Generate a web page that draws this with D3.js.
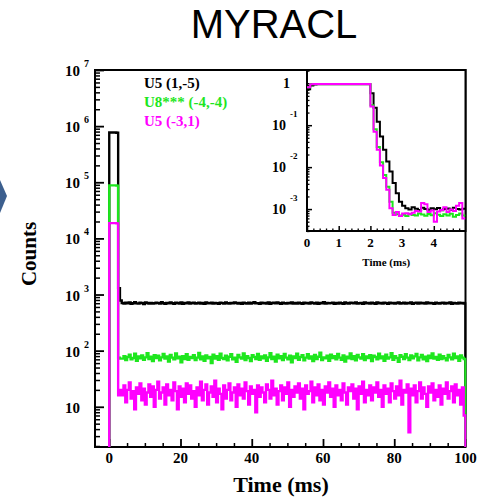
<!DOCTYPE html>
<html>
<head>
<meta charset="utf-8">
<script src="https://cdn.jsdelivr.net/npm/d3@7"></script>
<style>
  body { margin: 0; background: #fff; }
  svg { display: block; }
</style>
</head>
<body>
<div id="chart"></div>
<script>
// ---- donnees ----
const seriesNames = ["U5 (1,-5)", "U8*** (-4,-4)", "U5 (-3,1)"];
const seriesColors = ["#000000", "#1ee61e", "#ff00ff"];

// graphe principal : bins de 0.5 ms, 0 -> 100 ms
const binWidth = 0.5;
const peakBlack = [770000, 770000, 770000, 770000, 760000, 1300, 780];
const peakGreen = [88000, 88000, 88000, 88000, 87000, 75, 72];
const peakMagenta = [18700, 18700, 18700, 18700, 18500, 16, 20];

const noiseBlack = [
  705,690,712,698,720,684,701,730,695,688,716,702,679,724,708,693,711,687,699,715,
  703,689,726,697,682,710,694,721,700,686,713,705,691,719,683,707,698,725,690,704,
  712,688,699,716,693,706,681,722,701,694,717,689,708,697,684,714,703,692,720,699,
  687,711,696,723,705,690,709,684,718,700,693,715,688,706,727,695,702,681,713,698,
  708,691,719,686,704,712,694,725,699,683,716,701,690,711,697,724,688,706,693,715,
  700,684,718,696,709,687,721,703,692,714,680,707,699,726,689,711,695,702,717,686,
  705,693,712,698,684,720,701,690,716,707,694,723,688,700,710,685,719,697,704,691,
  713,699,686,722,695,708,690,715,702,683,718,697,711,689,704,725,692,700,714,687,
  709,696,720,684,703,712,691,717,698,705,688,721,694,710,699,682,716,701,693,707,
  715,689,704,697,723,686,711,700,692,718,695,706,690
];
const noiseGreen = [
  72,80,68,77,85,70,74,88,66,79,73,82,69,76,90,71,78,65,83,74,
  81,67,76,87,72,79,64,84,75,70,89,73,78,62,80,71,86,69,77,74,
  83,68,75,91,70,79,66,82,73,77,60,85,72,80,69,88,74,71,81,67,
  78,86,70,75,63,84,76,72,89,68,80,74,65,83,77,71,87,69,79,73,
  82,66,76,90,71,78,64,85,73,80,68,87,75,70,81,62,79,74,88,69,
  77,83,67,75,86,72,79,65,84,71,78,92,68,76,73,81,66,85,74,80,
  70,87,75,69,82,64,78,73,89,71,80,67,84,76,72,86,68,79,74,83,
  65,81,77,70,88,73,79,66,85,72,76,90,69,80,74,63,83,78,71,86,
  75,68,82,73,79,87,67,76,84,70,78,65,81,74,89,72,77,69,85,71,
  80,73,67,84,76,70,88,74,79,66,82,75,71
];
const noiseMagenta = [
  16,24,12,20,27,14,19,9,22,17,26,13,21,11,18,25,15,23,10,20,
  28,14,18,22,11,25,16,20,13,27,19,9,23,15,21,12,26,17,24,14,
  19,10,22,16,28,13,20,25,11,18,23,15,29,12,21,17,9,24,14,20,
  26,13,18,22,10,25,16,21,14,27,19,11,23,17,20,8,24,15,22,18,
  12,25,20,14,29,16,21,11,19,24,13,22,17,27,10,20,15,23,18,26,
  14,21,9,24,17,19,28,12,22,16,25,13,20,11,23,18,27,15,21,10,
  24,16,20,13,26,18,11,22,19,25,14,21,9,23,17,28,12,20,16,24,
  13,22,18,27,15,20,10,24,17,21,12,26,19,14,23,16,29,11,20,18,
  25,3.5,21,16,24,12,19,27,14,22,17,10,23,18,26,13,20,15,24,11,
  21,17,27,14,19,23,12,25,16,20,11,22,7
];

// encart : bins de 0.1 ms, 0 -> 5 ms, normalise
const insetBin = 0.1;
const insetBlack = [
  0.72,0.88,0.93,0.95,0.95,0.95,0.95,0.95,0.95,0.95,
  0.95,0.95,0.95,0.95,0.95,0.95,0.95,0.95,0.95,0.95,
  0.58,0.26,0.12,0.054,0.026,0.0136,0.0079,0.0042,0.0024,0.0015,
  0.0012,0.00105,0.00098,0.0011,0.00102,0.00095,0.00108,0.001,0.00097,0.00104,
  0.00099,0.00106,0.00094,0.00101,0.00103,0.00096,0.00107,0.001,0.00098,0.00102
];
const insetGreen = [
  0.8,0.95,0.96,0.96,0.96,0.96,0.96,0.96,0.96,0.96,
  0.96,0.96,0.96,0.96,0.96,0.96,0.96,0.96,0.96,0.96,
  0.3,0.08,0.03,0.013,0.0065,0.0034,0.0015,0.00082,0.00075,0.0007,
  0.00073,0.00068,0.00076,0.00072,0.0007,0.00078,0.00074,0.00069,0.00076,0.00071,
  0.00079,0.00073,0.00068,0.00075,0.0007,0.00077,0.00066,0.00072,0.00078,0.0007
];
const insetMagenta = [
  0.8,0.95,0.96,0.96,0.96,0.96,0.96,0.96,0.96,0.96,
  0.96,0.96,0.96,0.96,0.96,0.96,0.96,0.96,0.96,0.96,
  0.28,0.07,0.026,0.011,0.0055,0.0029,0.00105,0.00072,0.00085,0.00068,
  0.00078,0.0008,0.00075,0.00082,0.0009,0.00088,0.0014,0.0013,0.00085,0.00092,
  0.0005,0.00088,0.00095,0.0011,0.00085,0.00098,0.0009,0.0012,0.0014,0.0006
];

const mainXTicks = [0, 20, 40, 60, 80, 100];
const mainYExp = [1, 2, 3, 4, 5, 6, 7];
const insetXTicks = [0, 1, 2, 3, 4];
const insetYExp = [0, -1, -2, -3];

// ---- dessin ----
const W = 485, H = 499;
const serif = "'Liberation Serif', 'Times New Roman', serif";

const svg = d3.select("#chart").append("svg")
  .attr("width", W).attr("height", H);

// titre
svg.append("text")
  .attr("x", 274).attr("y", 38)
  .attr("text-anchor", "middle")
  .style("font-family", "'Liberation Sans', Arial, sans-serif")
  .style("font-size", "40px")
  .style("fill", "#000")
  .text("MYRACL");

// fleche decorative a gauche
svg.append("path")
  .attr("d", "M0,180 L7,196 L0,213 Z")
  .attr("fill", "#3c5f8e");

// echelles principales
const x = d3.scaleLinear().domain([-4, 100]).range([95, 465.5]);
const y = d3.scaleLog().domain([1.92, 1e7]).range([447, 70]);

svg.append("clipPath").attr("id", "clipMain")
  .append("rect")
  .attr("x", x.range()[0]).attr("y", y.range()[1])
  .attr("width", x.range()[1] - x.range()[0] + 1)
  .attr("height", y.range()[0] - y.range()[1]);

// cadre
svg.append("rect")
  .attr("x", x.range()[0]).attr("y", y.range()[1])
  .attr("width", x.range()[1] - x.range()[0])
  .attr("height", y.range()[0] - y.range()[1])
  .attr("fill", "none").attr("stroke", "#000").attr("stroke-width", 2);

// ticks mineurs / majeurs (vers l'interieur)
const xMinor = d3.range(5, 100, 5).filter(v => v % 20 !== 0);
svg.append("g")
  .attr("transform", `translate(0,${y.range()[0]})`)
  .call(d3.axisBottom(x).tickValues(xMinor).tickSize(-4).tickFormat(""))
  .call(g => g.select(".domain").remove())
  .call(g => g.selectAll("line").attr("stroke-width", 1.5));
svg.append("g")
  .attr("transform", `translate(0,${y.range()[0]})`)
  .call(d3.axisBottom(x).tickValues(mainXTicks).tickSize(-8).tickFormat(""))
  .call(g => g.select(".domain").remove())
  .call(g => g.selectAll("line").attr("stroke-width", 1.8));

const yMinor = [];
for (let e = 0; e < 7; e++) {
  for (let k = 2; k <= 9; k++) {
    const v = k * Math.pow(10, e);
    if (v >= y.domain()[0] && v <= y.domain()[1]) yMinor.push(v);
  }
}
svg.append("g")
  .attr("transform", `translate(${x.range()[0]},0)`)
  .call(d3.axisLeft(y).tickValues(yMinor).tickSize(-5).tickFormat(""))
  .call(g => g.select(".domain").remove())
  .call(g => g.selectAll("line").attr("stroke-width", 1.5));
svg.append("g")
  .attr("transform", `translate(${x.range()[0]},0)`)
  .call(d3.axisLeft(y).tickValues(mainYExp.map(e => Math.pow(10, e))).tickSize(-9).tickFormat(""))
  .call(g => g.select(".domain").remove())
  .call(g => g.selectAll("line").attr("stroke-width", 1.8));

// labels axe x
svg.selectAll(".xlab")
  .data(mainXTicks)
  .enter().append("text")
    .attr("class", "xlab")
    .attr("x", d => x(d))
    .attr("y", 463)
    .attr("text-anchor", "middle")
    .style("font-family", serif).style("font-weight", "bold").style("font-size", "15px")
    .text(d => d);

// labels axe y (10 + exposant)
const ylab = svg.selectAll(".ylab")
  .data(mainYExp)
  .enter().append("g").attr("class", "ylab");
ylab.append("text")
  .attr("x", 65)
  .attr("y", d => y(Math.pow(10, d)) + 6)
  .style("font-family", serif).style("font-weight", "bold").style("font-size", "15px")
  .text("10");
ylab.filter(d => d !== 1).append("text")
  .attr("x", 84)
  .attr("y", d => y(Math.pow(10, d)) - 3)
  .style("font-family", serif).style("font-weight", "bold").style("font-size", "10px")
  .text(d => d);

// titres axes
svg.append("text")
  .attr("x", 281).attr("y", 492)
  .attr("text-anchor", "middle")
  .style("font-family", serif).style("font-weight", "bold").style("font-size", "22px")
  .text("Time (ms)");
svg.append("text")
  .attr("transform", "translate(36,254) rotate(-90)")
  .attr("text-anchor", "middle")
  .style("font-family", serif).style("font-weight", "bold").style("font-size", "21px")
  .text("Counts");

// histogrammes principaux
function stepPoints(vals, bw, floor) {
  const pts = [{ t: 0, v: floor }];
  vals.forEach((v, i) => pts.push({ t: i * bw, v: v }));
  pts.push({ t: vals.length * bw, v: vals[vals.length - 1] });
  pts.push({ t: vals.length * bw, v: floor });
  return pts;
}
const mainSeries = [
  peakBlack.concat(noiseBlack),
  peakGreen.concat(noiseGreen),
  peakMagenta.concat(noiseMagenta)
];
const line = d3.line()
  .x(d => x(d.t))
  .y(d => y(Math.max(d.v, 0.5)))
  .curve(d3.curveStepAfter);

svg.append("g").attr("clip-path", "url(#clipMain)")
  .selectAll(".serie")
  .data(mainSeries)
  .enter().append("path")
    .attr("class", "serie")
    .attr("d", d => line(stepPoints(d, binWidth, 0.5)))
    .attr("fill", "none")
    .attr("stroke", (d, i) => seriesColors[i])
    .attr("stroke-width", 2.4)
    .attr("stroke-linejoin", "miter");

// legende
svg.selectAll(".leg")
  .data(seriesNames)
  .enter().append("text")
    .attr("class", "leg")
    .attr("x", 144)
    .attr("y", (d, i) => 88 + i * 19)
    .style("font-family", serif).style("font-weight", "bold").style("font-size", "15px")
    .style("fill", (d, i) => seriesColors[i])
    .text(d => d);

// ---- encart ----
const xi = d3.scaleLinear().domain([0, 5]).range([307, 465.5]);
const yi = d3.scaleLog().domain([3e-4, 2.07]).range([231, 70]);

svg.append("rect")
  .attr("x", xi.range()[0]).attr("y", yi.range()[1])
  .attr("width", xi.range()[1] - xi.range()[0])
  .attr("height", yi.range()[0] - yi.range()[1])
  .attr("fill", "#fff").attr("stroke", "#000").attr("stroke-width", 2);

svg.append("clipPath").attr("id", "clipInset")
  .append("rect")
  .attr("x", xi.range()[0]).attr("y", yi.range()[1])
  .attr("width", xi.range()[1] - xi.range()[0])
  .attr("height", yi.range()[0] - yi.range()[1]);

const xiMinor = d3.range(0.2, 5, 0.2).filter(v => Math.abs(v - Math.round(v)) > 0.01);
svg.append("g")
  .attr("transform", `translate(0,${yi.range()[0]})`)
  .call(d3.axisBottom(xi).tickValues(xiMinor).tickSize(-2.5).tickFormat(""))
  .call(g => g.select(".domain").remove())
  .call(g => g.selectAll("line").attr("stroke-width", 1.3));
svg.append("g")
  .attr("transform", `translate(0,${yi.range()[0]})`)
  .call(d3.axisBottom(xi).tickValues(insetXTicks).tickSize(-5).tickFormat(""))
  .call(g => g.select(".domain").remove())
  .call(g => g.selectAll("line").attr("stroke-width", 1.5));

const yiMinor = [];
for (let e = -4; e < 1; e++) {
  for (let k = 2; k <= 9; k++) {
    const v = k * Math.pow(10, e);
    if (v >= yi.domain()[0] && v <= yi.domain()[1]) yiMinor.push(v);
  }
}
svg.append("g")
  .attr("transform", `translate(${xi.range()[0]},0)`)
  .call(d3.axisLeft(yi).tickValues(yiMinor).tickSize(-2.5).tickFormat(""))
  .call(g => g.select(".domain").remove())
  .call(g => g.selectAll("line").attr("stroke-width", 1.3));
svg.append("g")
  .attr("transform", `translate(${xi.range()[0]},0)`)
  .call(d3.axisLeft(yi).tickValues(insetYExp.map(e => Math.pow(10, e))).tickSize(-5).tickFormat(""))
  .call(g => g.select(".domain").remove())
  .call(g => g.selectAll("line").attr("stroke-width", 1.5));

svg.selectAll(".xilab")
  .data(insetXTicks)
  .enter().append("text")
    .attr("class", "xilab")
    .attr("x", d => xi(d))
    .attr("y", 247)
    .attr("text-anchor", "middle")
    .style("font-family", serif).style("font-weight", "bold").style("font-size", "13px")
    .text(d => d);

const yilab = svg.selectAll(".yilab")
  .data(insetYExp)
  .enter().append("g").attr("class", "yilab");
yilab.filter(d => d === 0).append("text")
  .attr("x", 290)
  .attr("y", d => yi(1) + 5)
  .attr("text-anchor", "end")
  .style("font-family", serif).style("font-weight", "bold").style("font-size", "14px")
  .text("1");
yilab.filter(d => d !== 0).append("text")
  .attr("x", 272)
  .attr("y", d => yi(Math.pow(10, d)) + 5)
  .style("font-family", serif).style("font-weight", "bold").style("font-size", "14px")
  .text("10");
yilab.filter(d => d !== 0).append("text")
  .attr("x", 290)
  .attr("y", d => yi(Math.pow(10, d)) - 8)
  .style("font-family", serif).style("font-weight", "bold").style("font-size", "9px")
  .text(d => d);

svg.append("text")
  .attr("x", (xi.range()[0] + xi.range()[1]) / 2)
  .attr("y", 266)
  .attr("text-anchor", "middle")
  .style("font-family", serif).style("font-weight", "bold").style("font-size", "11px")
  .text("Time (ms)");

const insetSeries = [insetBlack, insetGreen, insetMagenta];
const lineInset = d3.line()
  .x(d => xi(d.t))
  .y(d => yi(d.v))
  .curve(d3.curveStepAfter);

svg.append("g").attr("clip-path", "url(#clipInset)")
  .selectAll(".serie-inset")
  .data(insetSeries)
  .enter().append("path")
    .attr("class", "serie-inset")
    .attr("d", d => {
      const pts = d.map((v, i) => ({ t: i * insetBin, v: v }));
      pts.push({ t: d.length * insetBin, v: d[d.length - 1] });
      return lineInset(pts);
    })
    .attr("fill", "none")
    .attr("stroke", (d, i) => seriesColors[i])
    .attr("stroke-width", 2);
</script>
</body>
</html>
